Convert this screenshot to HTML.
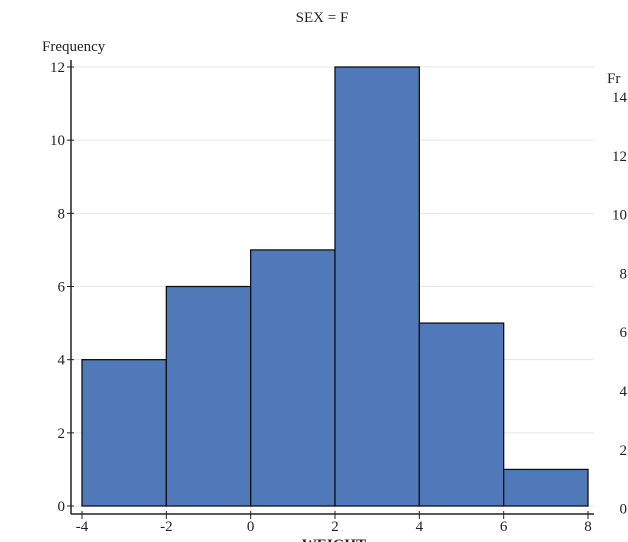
<!DOCTYPE html>
<html><head><meta charset="utf-8"><style>
body{margin:0;background:#fff;}
svg{display:block;font-family:"Liberation Serif",serif;}
</style></head><body>
<svg id="c" width="628" height="542">
<text x="322" y="22" font-size="15" text-anchor="middle" fill="#222">SEX = F</text>
<text x="42" y="51" font-size="15" fill="#222">Frequency</text>
<g id="grid"></g><g id="bars"></g><g id="axes"></g>
<text x="607" y="83" font-size="15" fill="#222">Fr</text>
<g id="right" font-size="15" fill="#222"></g>
<text x="334" y="549" font-size="15" font-weight="bold" text-anchor="middle" fill="#222">WEIGHT</text>
</svg>
<script>
const binStarts=[-4,-2,0,2,4,6];
const binWidth=2;
const counts=[4,6,7,12,5,1];
const xTicks=[-4,-2,0,2,4,6,8];
const yTicks=[0,2,4,6,8,10,12];
const rightTicks=["14","12","10","8","6","4","2","0"];
const NS="http://www.w3.org/2000/svg";
const X=v=>82+(v+4)*(506/12);
const Y=v=>506-v*(439/12);
function mk(t,a,p){const e=document.createElementNS(NS,t);for(const k in a)e.setAttribute(k,a[k]);p.appendChild(e);return e;}
const grid=document.getElementById('grid'),bars=document.getElementById('bars'),axes=document.getElementById('axes'),right=document.getElementById('right');
yTicks.forEach(v=>{
  const g=mk('line',{x1:72,x2:594,y1:Y(v),y2:Y(v),stroke:'#e6e6e6','stroke-width':1},grid);
  
  
  mk('line',{x1:67,x2:74,y1:Y(v),y2:Y(v),stroke:'#222'},axes);
  const t=mk('text',{x:65,y:Y(v)+5,'font-size':15,'text-anchor':'end',fill:'#222'},axes);
  t.textContent=v;
  
  
});
counts.forEach((c,i)=>{
  const x0=X(binStarts[i]),x1=X(binStarts[i]+binWidth);
  const r=mk('rect',{x:x0,y:Y(c),width:x1-x0,height:Y(0)-Y(c),fill:'#4f79b9',stroke:'#111','stroke-width':1.3},bars);
  
  
});
mk('line',{x1:71,x2:71,y1:60,y2:514,stroke:'#222','stroke-width':1.5},axes);
mk('line',{x1:71,x2:594,y1:514,y2:514,stroke:'#222','stroke-width':1.5},axes);
xTicks.forEach(v=>{
  mk('line',{x1:X(v),x2:X(v),y1:511,y2:519,stroke:'#222'},axes);
  const t=mk('text',{x:X(v),y:531,'font-size':15,'text-anchor':'middle',fill:'#222'},axes);
  t.textContent=v;
  
  
});
rightTicks.forEach((s,i)=>{
  const t=mk('text',{x:627,y:102+i*58.8,'text-anchor':'end'},right);
  t.textContent=s;
  
  
});
</script>
</body></html>
